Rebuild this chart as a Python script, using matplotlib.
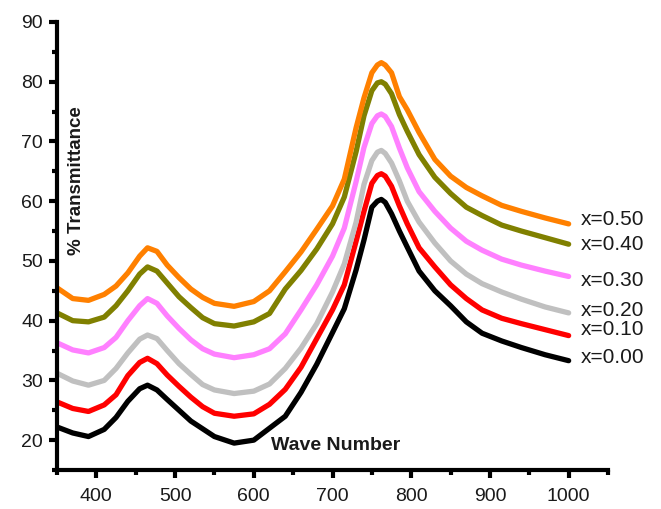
import matplotlib
matplotlib.use("Agg")
import matplotlib.pyplot as plt
from matplotlib.ticker import MultipleLocator

plt.rcParams['font.family'] = ['Liberation Sans', 'DejaVu Sans']

wave = [350, 370, 390, 410, 425, 440, 455, 465, 477, 490, 505, 520, 535, 550, 575,
        600, 620, 640, 660, 680, 700, 715, 730, 740, 750, 757, 762, 767, 775, 785,
        795, 810, 830, 850, 870, 890, 915, 940, 970, 1000]

t_000 = [22.2, 21.2, 20.6, 21.8, 23.8, 26.5, 28.6, 29.2, 28.4, 26.8, 25.0, 23.2, 21.9,
         20.6, 19.5, 20.0, 22.0, 24.0, 28.0, 32.7, 38.0, 42.0, 48.5, 53.5, 59.0, 60.0,
         60.3, 59.8, 57.9, 55.0, 52.3, 48.3, 45.0, 42.5, 39.8, 37.9, 36.6, 35.5, 34.3,
         33.3]
t_010 = [26.4, 25.3, 24.8, 25.9, 27.6, 30.8, 33.0, 33.7, 32.8, 30.9, 29.0, 27.2, 25.6,
         24.5, 24.0, 24.4, 26.0, 28.5, 32.2, 37.0, 41.8, 46.0, 53.3, 58.3, 63.0, 64.3,
         64.6, 64.2, 62.5, 59.2, 56.2, 52.2, 49.0, 46.0, 43.7, 41.8, 40.4, 39.5, 38.5,
         37.5]
t_020 = [31.2, 29.9, 29.2, 30.0, 32.0, 34.6, 36.9, 37.6, 37.0, 35.0, 32.8, 31.0, 29.3,
         28.4, 27.8, 28.2, 29.4, 32.0, 35.4, 39.5, 44.8, 49.5, 56.5, 62.8, 66.8, 68.2,
         68.5, 68.0, 66.4, 63.4, 60.0, 56.5, 53.0, 50.0, 47.8, 46.2, 44.8, 43.6, 42.3,
         41.3]
t_030 = [36.3, 35.1, 34.6, 35.5, 37.2, 40.0, 42.5, 43.7, 42.9, 40.8, 38.7, 36.8, 35.3,
         34.4, 33.8, 34.3, 35.3, 37.8, 41.8, 46.0, 50.8, 55.5, 63.3, 69.0, 73.0, 74.3,
         74.6, 74.2, 72.5, 68.9, 65.6, 61.6, 58.3, 55.5, 53.3, 51.8, 50.3, 49.3, 48.3,
         47.4]
t_040 = [41.3, 40.0, 39.8, 40.6, 42.5, 45.0, 47.8, 49.0, 48.3, 46.3, 44.0, 42.2, 40.5,
         39.5, 39.1, 39.8, 41.2, 45.3, 48.4, 52.0, 56.2, 60.7, 68.3, 74.3, 78.5, 79.8,
         80.0, 79.6, 78.0, 74.5, 71.7, 67.8, 64.0, 61.3, 59.0, 57.6, 56.0, 55.0, 53.9,
         52.8]
t_050 = [45.5, 43.7, 43.4, 44.4, 45.8, 48.0, 50.8, 52.2, 51.6, 49.3, 47.2, 45.3, 43.9,
         42.9, 42.4, 43.2, 45.0, 48.2, 51.5, 55.3, 59.2, 63.7, 72.3, 77.3, 81.5, 82.8,
         83.2, 82.8, 81.5, 77.5, 75.3, 71.5, 67.0, 64.2, 62.3, 60.9, 59.3, 58.3, 57.2,
         56.2]

series = [t_000, t_010, t_020, t_030, t_040, t_050]
labels = ["x=0.00", "x=0.10", "x=0.20", "x=0.30", "x=0.40", "x=0.50"]
colors = ["#000000", "#FF0000", "#C0C0C0", "#FF80FF", "#808000", "#FF8000"]
label_y = [33.8, 38.5, 41.7, 46.7, 52.7, 56.9]

fig = plt.figure(figsize=(6.61, 5.09), dpi=100)
ax = fig.add_axes([57 / 661, 1 - 470 / 509, (608 - 57) / 661, (470 - 22) / 509])

for ys, c in zip(series, colors):
    ax.plot(wave, ys, color=c, lw=3.8, solid_capstyle='round', solid_joinstyle='round')

for lab, ly in zip(labels, label_y):
    ax.text(1015, ly, lab, ha='left', va='center', fontsize=15, color='#1a1a1a')

ax.text(375, 63.4, "% Transmittance", rotation=90, ha='center', va='center',
        fontsize=13.5, fontweight='bold', color='#1a1a1a')
ax.text(704, 19.1, "Wave Number", ha='center', va='center',
        fontsize=14, fontweight='bold', color='#1a1a1a')

ax.set_xlim(350, 1050)
ax.set_ylim(15, 90)
ax.xaxis.set_major_locator(MultipleLocator(100))
ax.xaxis.set_minor_locator(MultipleLocator(50))
ax.yaxis.set_major_locator(MultipleLocator(10))
ax.yaxis.set_minor_locator(MultipleLocator(5))
ax.set_xticks([400, 500, 600, 700, 800, 900, 1000])
ax.set_yticks([20, 30, 40, 50, 60, 70, 80, 90])

for s in ['top', 'right']:
    ax.spines[s].set_visible(False)
for s in ['left', 'bottom']:
    ax.spines[s].set_linewidth(3)
    ax.spines[s].set_capstyle('projecting')

ax.tick_params(which='major', length=6, width=3, direction='out', labelsize=14,
               labelcolor='#1a1a1a', pad=4)
ax.tick_params(axis='x', which='major', pad=7)
ax.tick_params(which='minor', length=3.5, width=3, direction='out')

fig.savefig("out.png", dpi=100)
